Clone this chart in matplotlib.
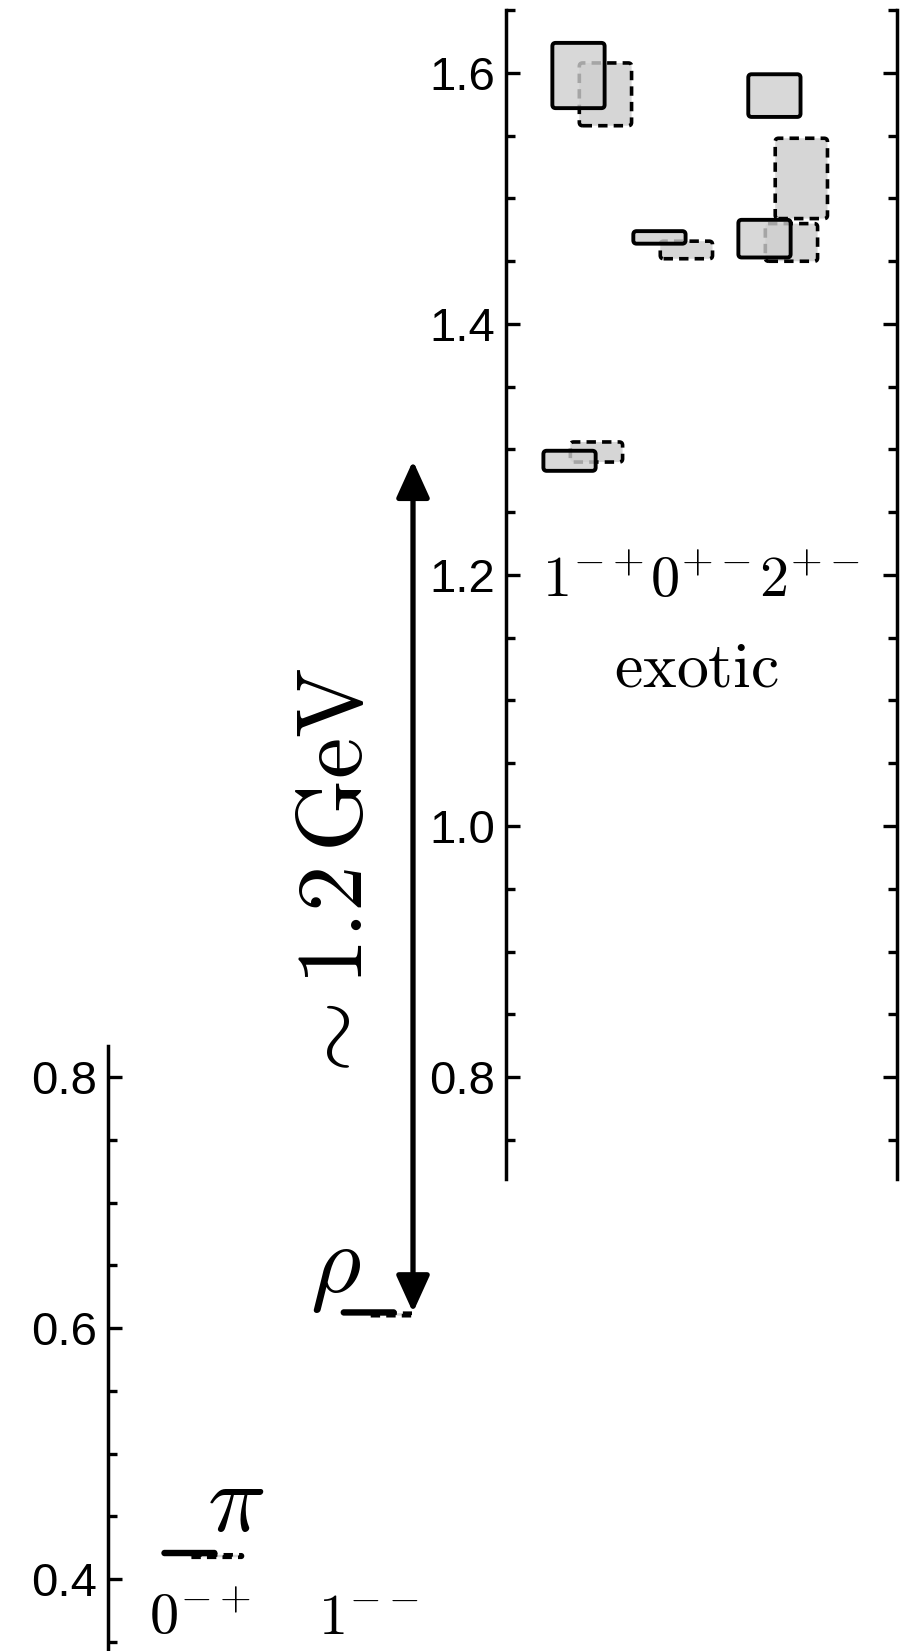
import matplotlib
matplotlib.use("Agg")
import matplotlib.pyplot as plt
from matplotlib.patches import FancyBboxPatch
from matplotlib.ticker import MultipleLocator, FormatStrFormatter

plt.rcParams['mathtext.fontset'] = 'cm'
plt.rcParams['font.family'] = ['Liberation Sans', 'DejaVu Sans']

# exotic states (GeV): two determinations, solid and dashed
exotic_labels = [r'$1^{-+}$', r'$0^{+-}$', r'$2^{+-}$']
m_solid = [1.291, 1.598, 1.469, 1.468, 1.582]
e_solid = [0.008, 0.026, 0.005, 0.015, 0.017]
m_dash = [1.298, 1.583, 1.459, 1.465, 1.516]
e_dash = [0.008, 0.025, 0.007, 0.015, 0.032]

# light mesons (GeV)
light_labels = [r'$0^{-+}$', r'$1^{--}$']
light_names = [r'$\pi$', r'$\rho$']
ml_solid = [0.4207, 0.6124]
ml_dash = [0.4183, 0.6108]
el = [0.001, 0.001]

# arrow from rho up to the lowest 1-+ level
gap_label = r'$\sim 1.2\,\mathrm{GeV}$'

# layout: pixels per GeV, pixels per x unit, figure size in px
W, H = 902, 1651
PX = 1255.0
XU = 55.0
x_exotic = [1.155, 1.318, 2.79, 4.70, 4.88]
x_light = [1.48, 4.74]
dx = 0.49
box_w = 0.95


def fy(v):
    return 1 - (73 + (1.6 - v) * PX) / H


def level(ax, x, m, e, dashed):
    asp = XU / PX
    r = min(0.06, 0.95 * e / asp)
    if dashed:
        kw = dict(facecolor='#d6d6d6', edgecolor='black', lw=2.6,
                  linestyle=(0, (2.6, 1.7)), zorder=2)
    else:
        kw = dict(facecolor=(0.81, 0.81, 0.81, 0.8), edgecolor='black',
                  lw=2.8, zorder=3)
    p = FancyBboxPatch((x - box_w / 2, m - e), box_w, 2 * e,
                       boxstyle="round,pad=0,rounding_size=%g" % r,
                       mutation_aspect=asp, joinstyle='round', **kw)
    ax.add_patch(p)


def style_axis(ax, ylo, yhi):
    ax.set_ylim(ylo, yhi)
    ax.yaxis.set_major_locator(MultipleLocator(0.2))
    ax.yaxis.set_minor_locator(MultipleLocator(0.05))
    ax.yaxis.set_major_formatter(FormatStrFormatter('%.1f'))
    ax.tick_params(axis='y', which='both', direction='in', width=2.4,
                   labelsize=34, pad=8)
    ax.tick_params(axis='y', which='major', length=10)
    ax.tick_params(axis='y', which='minor', length=6.5)
    ax.set_xticks([])
    for s in ['top', 'bottom']:
        ax.spines[s].set_visible(False)
    for s in ['left', 'right']:
        ax.spines[s].set_linewidth(2.5)
    ax.patch.set_alpha(0)


fig = plt.figure(figsize=(W / 100, H / 100), dpi=100)

# right panel: exotics
ax_r = fig.add_axes([506 / W, fy(0.7185), (897 - 506) / W, fy(1.65) - fy(0.7185)])
style_axis(ax_r, 0.7185, 1.65)
ax_r.set_xlim(0, (897 - 506) / XU)
ax_r.tick_params(axis='y', which='both', right=True)
for i in range(len(m_solid)):
    level(ax_r, x_exotic[i] + dx, m_dash[i], e_dash[i], True)
    level(ax_r, x_exotic[i], m_solid[i], e_solid[i], False)
for lab, xl in zip(exotic_labels, [0.66, 2.62, 4.6]):
    ax_r.text(xl, 1.1825, lab, fontsize=42, ha='left', va='baseline')
ax_r.text(3.47, 1.1115, r'$\mathrm{exotic}$', fontsize=46,
          ha='center', va='baseline')

# left panel: pi and rho
ax_l = fig.add_axes([108 / W, fy(0.3424), (412 - 108) / W, fy(0.8247) - fy(0.3424)])
style_axis(ax_l, 0.3424, 0.8247)
ax_l.set_xlim(0, (412 - 108) / XU)
ax_l.spines['right'].set_visible(False)
for i in range(len(ml_solid)):
    level(ax_l, x_light[i] + dx, ml_dash[i], el[i], True)
    level(ax_l, x_light[i], ml_solid[i], el[i], False)
for lab, xl in zip(light_labels, [1.673, 4.736]):
    ax_l.text(xl, 0.3562, lab, fontsize=42, ha='center', va='baseline')
ax_l.text(1.80, 0.4382, light_names[0], fontsize=70, ha='left', va='baseline')
ax_l.text(3.68, 0.6287, light_names[1], fontsize=70, ha='left', va='baseline')

x_arrow = (413 - 108) / XU
ax_l.annotate('', xy=(x_arrow, m_solid[0]), xytext=(x_arrow, ml_solid[1]),
              arrowprops=dict(arrowstyle='<|-|>,head_length=0.75,head_width=0.34',
                              mutation_scale=30, lw=3.8, color='black',
                              shrinkA=0, shrinkB=0),
              annotation_clip=False)
ax_l.text(4.19, 0.958, gap_label, rotation=90, fontsize=67,
          ha='center', va='center')

fig.savefig('out.png', dpi=100)
